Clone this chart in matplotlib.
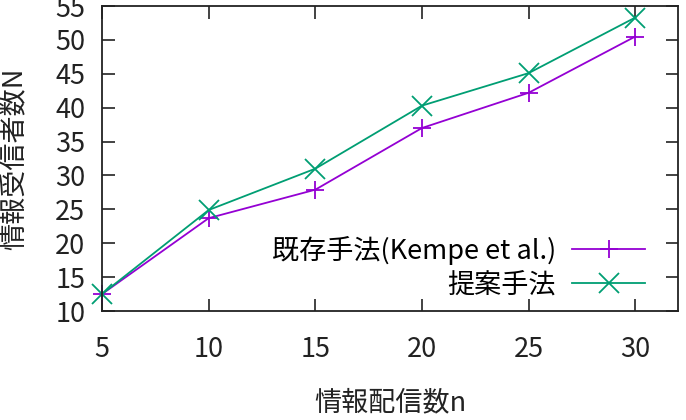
import matplotlib
matplotlib.use("Agg")
import matplotlib.pyplot as plt

plt.rcParams['font.family'] = ['Noto Sans CJK JP', 'DejaVu Sans']

# data
n = [5, 10, 15, 20, 25, 30]
kempe = [12.5, 23.7, 27.9, 37.0, 42.2, 50.5]
proposed = [12.5, 24.9, 31.0, 40.3, 45.1, 53.3]

labels = ["既存手法(Kempe et al.)", "提案手法"]
xticks = [5, 10, 15, 20, 25, 30]
yticks = [10, 15, 20, 25, 30, 35, 40, 45, 50, 55]

fig = plt.figure(figsize=(6.86, 4.2), dpi=100)
ax = fig.add_axes([0.1487, 0.2595, 0.8396, 0.7262])

ax.plot(n, kempe, color="#9400d3", lw=1.3, marker="+", ms=13, mew=1.3,
        label=labels[0], clip_on=False)
ax.plot(n, proposed, color="#009e73", lw=1.3, marker="x", ms=14, mew=1.3,
        label=labels[1], clip_on=False)

ax.set_xlim(5, 32)
ax.set_ylim(10, 55)
ax.set_xticks(xticks)
ax.set_yticks(yticks)

ax.tick_params(direction="in", length=9, width=1.2, top=True, right=True,
               labelsize=19.5, colors="#222222")
ax.tick_params(axis="x", pad=18)
ax.tick_params(axis="y", pad=12)
for s in ax.spines.values():
    s.set_linewidth(1.3)
    s.set_color("#222222")

ax.set_xlabel("情報配信数n", fontsize=19.5, labelpad=19, color="#222222")
ax.set_ylabel("情報受信者数N", fontsize=19.5, labelpad=20, color="#222222")

ax.legend(loc="lower right", bbox_to_anchor=(0.962, 0.005), frameon=False,
          markerfirst=False, fontsize=19.5, handlelength=2.7,
          labelspacing=0.25, handletextpad=0.6, borderaxespad=0)

fig.savefig("out.png", dpi=100)
